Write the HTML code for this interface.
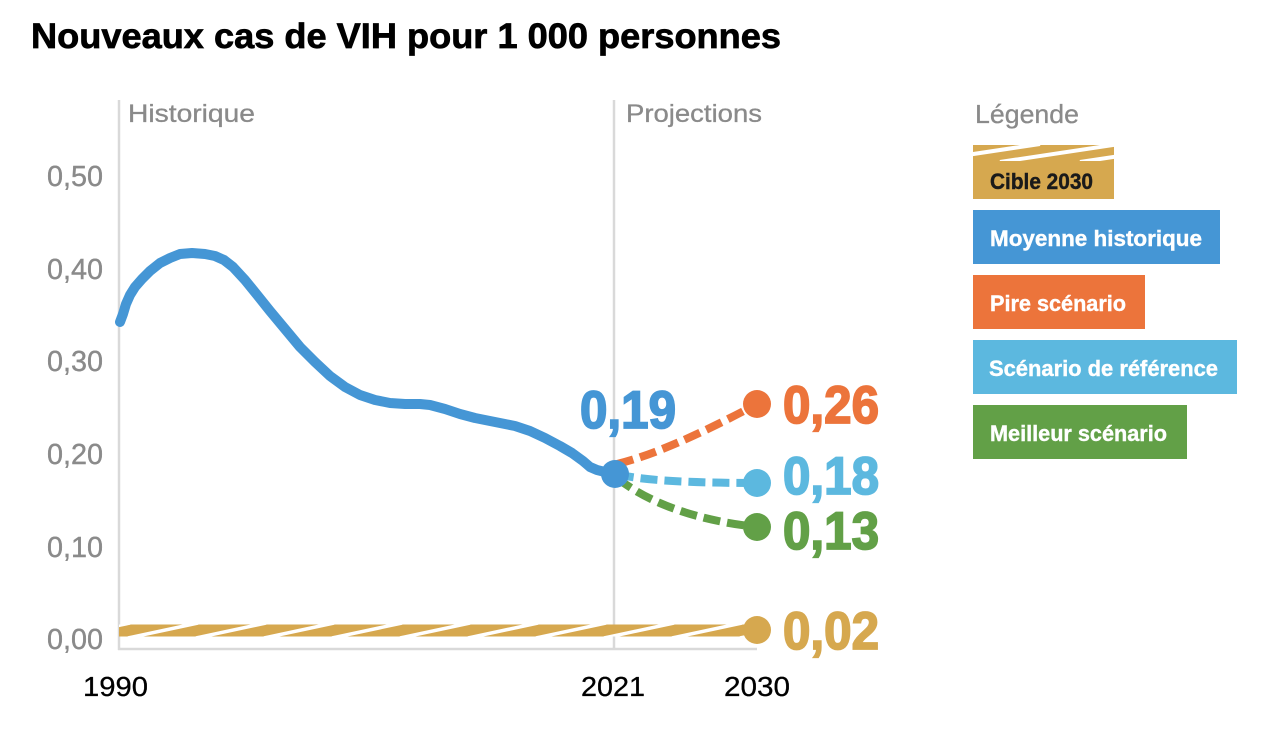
<!DOCTYPE html>
<html><head><meta charset="utf-8"><style>
html,body{margin:0;padding:0;background:#fff;}
svg{display:block;}
text{font-family:"Liberation Sans",sans-serif;}
</style></head><body>
<svg width="1264" height="734" viewBox="0 0 1264 734" xmlns="http://www.w3.org/2000/svg">
<defs>
<clipPath id="bandclip"><rect x="119" y="624.5" width="638" height="12"/></clipPath>
<clipPath id="legclip"><rect x="973" y="145" width="141" height="16"/></clipPath>
</defs>
<rect width="1264" height="734" fill="#fff"/>
<!-- title -->
<text x="31" y="48" font-size="35" font-weight="bold" fill="#000" stroke="#000" stroke-width="0.7" textLength="750" lengthAdjust="spacingAndGlyphs">Nouveaux cas de VIH pour 1 000 personnes</text>

<!-- gridlines / axes -->
<line x1="119" y1="100" x2="119" y2="650" stroke="#d9d9d9" stroke-width="2.5"/>
<line x1="614" y1="100" x2="614" y2="650" stroke="#d9d9d9" stroke-width="2.5"/>
<line x1="118" y1="649" x2="757" y2="649" stroke="#d9d9d9" stroke-width="2.5"/>

<text x="128" y="122" font-size="25" fill="#8a8a8a" stroke="#8a8a8a" stroke-width="0.3" textLength="127" lengthAdjust="spacingAndGlyphs">Historique</text>
<text x="626" y="122" font-size="25" fill="#8a8a8a" stroke="#8a8a8a" stroke-width="0.3" textLength="136" lengthAdjust="spacingAndGlyphs">Projections</text>

<!-- y labels -->
<g font-size="29" fill="#8a8a8a" stroke="#8a8a8a" stroke-width="0.4">
<text x="47" y="186" textLength="56" lengthAdjust="spacingAndGlyphs">0,50</text>
<text x="47" y="279" textLength="56" lengthAdjust="spacingAndGlyphs">0,40</text>
<text x="47" y="371" textLength="56" lengthAdjust="spacingAndGlyphs">0,30</text>
<text x="47" y="464" textLength="56" lengthAdjust="spacingAndGlyphs">0,20</text>
<text x="47" y="557" textLength="56" lengthAdjust="spacingAndGlyphs">0,10</text>
<text x="47" y="649" textLength="56" lengthAdjust="spacingAndGlyphs">0,00</text>
</g>
<!-- x labels -->
<g font-size="28" fill="#000" stroke="#000" stroke-width="0.3">
<text x="83" y="696" textLength="65" lengthAdjust="spacingAndGlyphs">1990</text>
<text x="581" y="696" textLength="64" lengthAdjust="spacingAndGlyphs">2021</text>
<text x="724" y="696" textLength="66" lengthAdjust="spacingAndGlyphs">2030</text>
</g>

<!-- cible band -->
<g clip-path="url(#bandclip)">
<rect x="119" y="624.5" width="638" height="12" fill="#D6A84F"/>
<g stroke="#fff" stroke-width="3.5">
<line x1="60" y1="638" x2="130" y2="623"/>
<line x1="128" y1="638" x2="198" y2="623"/>
<line x1="196" y1="638" x2="266" y2="623"/>
<line x1="264" y1="638" x2="334" y2="623"/>
<line x1="332" y1="638" x2="402" y2="623"/>
<line x1="400" y1="638" x2="470" y2="623"/>
<line x1="468" y1="638" x2="538" y2="623"/>
<line x1="536" y1="638" x2="606" y2="623"/>
<line x1="604" y1="638" x2="674" y2="623"/>
<line x1="672" y1="638" x2="742" y2="623"/>
<line x1="740" y1="638" x2="810" y2="623"/>
</g>
</g>

<!-- historical curve -->
<polyline fill="none" stroke="#4596D5" stroke-width="10" stroke-linejoin="round" stroke-linecap="round"
points="120,322 123,314 126,304 130,295 135,287 142,279 150,271 160,263 170,258 180,254 192,253 205,254 215,256 224,260 233,267 245,280 258,296 270,311 285,329 300,347 315,362 330,376 345,387 360,395 375,400 390,403 405,404 420,404 430,405 445,409 460,414 475,418 490,421 505,424 515,426 530,431 545,438 560,446 572,453 583,461 590,467 597,470 605,472 614,474"/>

<!-- projections -->
<path d="M617,464 Q667,452 757,404" fill="none" stroke="#EC743B" stroke-width="8" stroke-dasharray="17 7"/>
<path d="M617,474 Q650,483 757,483" fill="none" stroke="#5CB8DF" stroke-width="8" stroke-dasharray="17 7"/>
<path d="M617,478 Q667,517 757,527" fill="none" stroke="#62A047" stroke-width="8" stroke-dasharray="17 7"/>

<!-- dots -->
<circle cx="615" cy="474" r="14" fill="#4596D5"/>
<circle cx="757" cy="404" r="14" fill="#EC743B"/>
<circle cx="757" cy="483" r="14" fill="#5CB8DF"/>
<circle cx="757" cy="527" r="14" fill="#62A047"/>
<circle cx="757" cy="630" r="14" fill="#D6A84F"/>

<!-- value labels -->
<g font-size="53" font-weight="bold" stroke-width="1.8">
<text x="580" y="428" fill="#4596D5" stroke="#4596D5" textLength="96" lengthAdjust="spacingAndGlyphs">0,19</text>
<text x="783" y="423" fill="#EC743B" stroke="#EC743B" textLength="96" lengthAdjust="spacingAndGlyphs">0,26</text>
<text x="783" y="494" fill="#5CB8DF" stroke="#5CB8DF" textLength="96" lengthAdjust="spacingAndGlyphs">0,18</text>
<text x="783" y="549" fill="#62A047" stroke="#62A047" textLength="96" lengthAdjust="spacingAndGlyphs">0,13</text>
<text x="783" y="649" fill="#D6A84F" stroke="#D6A84F" textLength="96" lengthAdjust="spacingAndGlyphs">0,02</text>
</g>

<!-- legend -->
<text x="975" y="123" font-size="26" fill="#8a8a8a" stroke="#8a8a8a" stroke-width="0.3" textLength="104" lengthAdjust="spacingAndGlyphs">Légende</text>

<rect x="973" y="145" width="141" height="54" fill="#D6A84F"/>
<g clip-path="url(#legclip)" stroke="#fff" stroke-width="4">
<line x1="920" y1="162" x2="1040" y2="144"/>
<line x1="1000" y1="162" x2="1120" y2="144"/>
<line x1="1080" y1="162" x2="1200" y2="144"/>
</g>
<g font-size="22" font-weight="bold" stroke-width="0.4">
<text x="990" y="189" fill="#1a1a1a" stroke="#1a1a1a" textLength="103" lengthAdjust="spacingAndGlyphs">Cible 2030</text>

<rect x="973" y="210" width="247" height="54" fill="#4596D5"/>
<text x="990" y="246" fill="#fff" stroke="#fff" textLength="212" lengthAdjust="spacingAndGlyphs">Moyenne historique</text>

<rect x="973" y="275" width="172" height="54" fill="#EC743B"/>
<text x="990" y="311" fill="#fff" stroke="#fff" textLength="136" lengthAdjust="spacingAndGlyphs">Pire scénario</text>

<rect x="973" y="340" width="264" height="54" fill="#5CB8DF"/>
<text x="989" y="376" fill="#fff" stroke="#fff" textLength="229" lengthAdjust="spacingAndGlyphs">Scénario de référence</text>

<rect x="973" y="405" width="214" height="54" fill="#62A047"/>
<text x="990" y="441" fill="#fff" stroke="#fff" textLength="177" lengthAdjust="spacingAndGlyphs">Meilleur scénario</text>
</g>
</svg>
</body></html>
